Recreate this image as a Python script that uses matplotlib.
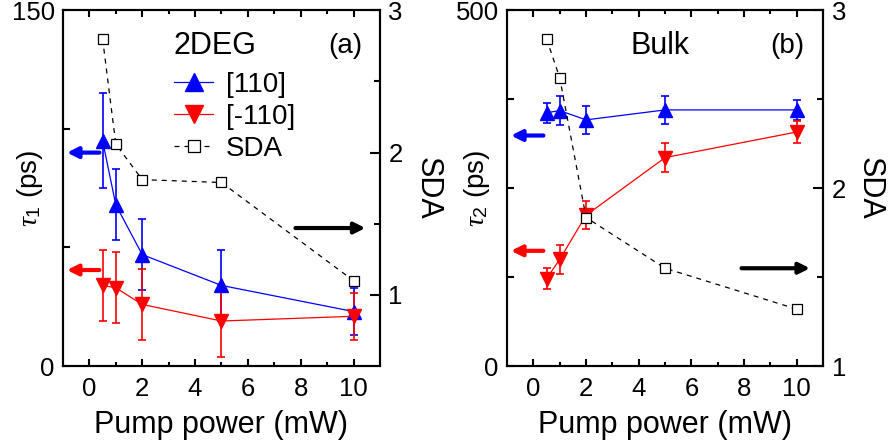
import matplotlib
matplotlib.use('Agg')
import matplotlib.pyplot as plt
from matplotlib.lines import Line2D

plt.rcParams['font.family'] = ['Liberation Sans', 'DejaVu Sans']
plt.rcParams['mathtext.fontset'] = 'custom'
plt.rcParams['mathtext.it'] = 'Liberation Serif:italic'
plt.rcParams['mathtext.rm'] = 'Liberation Sans'

# pump power (mW)
power = [0.5, 1, 2, 5, 10]

# panel (a): 2DEG, tau_1 (ps)
tau1_110 = [95, 68, 47, 34, 23]
tau1_110_err = [20, 15, 15, 15, 10]
tau1_m110 = [34, 33, 26, 19, 21]
tau1_m110_err = [15, 15, 15, 15, 10]
sda_2deg = [2.80, 2.06, 1.81, 1.79, 1.10]

# panel (b): bulk, tau_2 (ps)
tau2_110 = [356, 359, 346, 360, 360]
tau2_110_err = [14, 20, 20, 20, 14]
tau2_m110 = [123, 150, 212, 293, 329]
tau2_m110_err = [15, 20, 20, 20, 15]
sda_bulk = [2.84, 2.62, 1.835, 1.55, 1.32]

BLUE = '#0000ff'
RED = '#ff0000'


def arrow(ax, x0, x1, y, color):
    ax.annotate('', xy=(x1, y), xytext=(x0, y),
                arrowprops=dict(arrowstyle='-|>', color=color, lw=3,
                                mutation_scale=16, shrinkA=0, shrinkB=0))


def setup(ax, axr, ylim, yticks, ylabels, sda_lim, sda_ticks, ylabel, ylab_x, sda_x):
    ax.set_xlim(-1, 11)
    ax.set_xticks([0, 2, 4, 6, 8, 10])
    ax.set_xticks([1, 3, 5, 7, 9], minor=True)
    ax.set_ylim(*ylim)
    ax.set_yticks(yticks)
    ax.set_yticklabels(ylabels)
    ax.tick_params(axis='x', which='both', direction='in', top=True,
                   labelsize=18.5, width=1.5, pad=8)
    ax.tick_params(axis='x', which='major', length=5)
    ax.tick_params(axis='x', which='minor', length=3)
    ax.tick_params(axis='y', direction='in', length=5, width=1.5, labelsize=18.5, pad=6)
    ax.set_xlabel('Pump power (mW)', fontsize=22, labelpad=6)
    ax.set_ylabel(ylabel, fontsize=20)
    ax.yaxis.set_label_coords(ylab_x, 0.5)
    axr.set_ylim(*sda_lim)
    axr.set_yticks(sda_ticks)
    axr.set_yticks([v + 0.5 for v in sda_ticks[:-1]], minor=True)
    axr.tick_params(axis='y', which='both', direction='in', width=1.5,
                    labelsize=18.5, pad=6)
    axr.tick_params(axis='y', which='major', length=7)
    axr.tick_params(axis='y', which='minor', length=4)
    axr.set_ylabel('SDA', fontsize=22, rotation=-90, va='center')
    axr.yaxis.set_label_coords(sda_x, 0.5)
    for a in (ax, axr):
        for s in a.spines.values():
            s.set_linewidth(1.5)


fig = plt.figure(figsize=(8.88, 4.47), dpi=100)

# ---- (a) 2DEG
ax = fig.add_axes([0.0709, 0.181, 0.357, 0.796])
axr = ax.twinx()
ax.errorbar(power, tau1_110, yerr=tau1_110_err, color=BLUE, marker='^',
            ms=9.5, lw=0.9, elinewidth=1.2, capsize=3, capthick=1.2)
ax.errorbar(power, tau1_m110, yerr=tau1_m110_err, color=RED, marker='v',
            ms=9.5, lw=0.9, elinewidth=1.2, capsize=3, capthick=1.2)
axr.plot(power, sda_2deg, color='black', ls=(0, (4, 4)), lw=0.9, marker='s',
         ms=6.5, mfc='white', mec='black', mew=0.9)
setup(ax, axr, (0, 150), [0, 50, 100, 150], ['0', '', '', '150'],
      (0.5, 3), [1, 2, 3], r'$\tau_1$ (ps)', -0.058, 1.15)
arrow(ax, 0.38, -0.85, 90, BLUE)
arrow(ax, 0.38, -0.85, 40.5, RED)
arrow(axr, 7.8, 10.45, 1.47, 'black')
ax.text(3.2, 135, '2DEG', fontsize=22, va='center')
ax.text(10.35, 135, '(a)', fontsize=20, va='center', ha='right')
handles = [
    Line2D([], [], color=BLUE, marker='^', ms=13, lw=0.9),
    Line2D([], [], color=RED, marker='v', ms=13, lw=0.9),
    Line2D([], [], color='black', ls=(0, (4, 4)), lw=0.9, marker='s',
           ms=9, mfc='white', mec='black', mew=0.9),
]
ax.legend(handles, ['[110]', '[-110]', 'SDA'], loc='upper left',
          bbox_to_anchor=(0.307, 0.866), frameon=False, fontsize=20,
          handlelength=1.4, handletextpad=0.45, borderpad=0, labelspacing=0.22)

# ---- (b) Bulk
bx = fig.add_axes([0.571, 0.181, 0.356, 0.796])
bxr = bx.twinx()
bx.errorbar(power, tau2_110, yerr=tau2_110_err, color=BLUE, marker='^',
            ms=9.5, lw=0.9, elinewidth=1.2, capsize=3, capthick=1.2)
bx.errorbar(power, tau2_m110, yerr=tau2_m110_err, color=RED, marker='v',
            ms=9.5, lw=0.9, elinewidth=1.2, capsize=3, capthick=1.2)
bxr.plot(power, sda_bulk, color='black', ls=(0, (4, 4)), lw=0.9, marker='s',
         ms=6.5, mfc='white', mec='black', mew=0.9)
setup(bx, bxr, (0, 500), [0, 125, 250, 375, 500], ['0', '', '', '', '500'],
      (1, 3), [1, 2, 3], r'$\tau_2$ (ps)', -0.048, 1.148)
arrow(bx, 0.38, -0.85, 324, BLUE)
arrow(bx, 0.38, -0.85, 162, RED)
arrow(bxr, 7.9, 10.5, 1.55, 'black')
bx.text(4.8, 450, 'Bulk', fontsize=22, va='center', ha='center')
bx.text(10.3, 450, '(b)', fontsize=20, va='center', ha='right')

fig.savefig('out.png', dpi=100)
